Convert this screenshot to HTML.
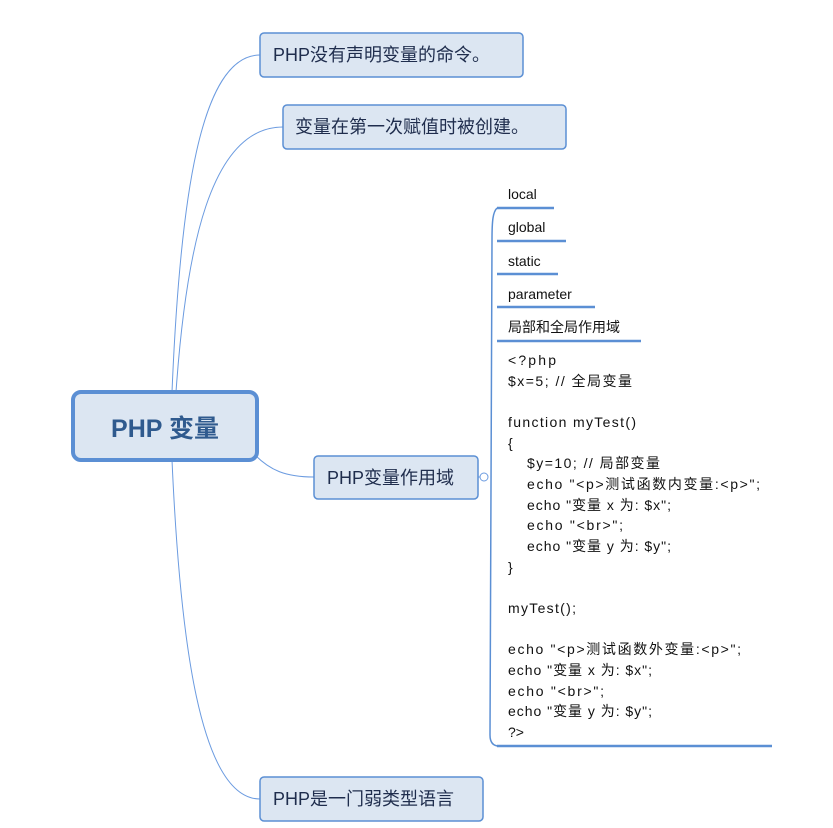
<!DOCTYPE html>
<html><head><meta charset="utf-8"><style>
html,body{margin:0;padding:0;background:#fff}
svg{display:block}
text{font-family:"Liberation Sans","Noto Sans CJK SC",sans-serif}
</style></head><body>
<svg width="833" height="828" viewBox="0 0 833 828" xmlns="http://www.w3.org/2000/svg">
<g fill="none" stroke="#6b9be0" stroke-width="1">
<path d="M172,392 C180,200 200,55 260,55"/>
<path d="M176,392 C186,250 210,127 283,127"/>
<path d="M255,455 C270,470 285,477 314,477"/>
<path d="M172,460 C180,640 200,799 260,799"/>
<path d="M478,477 L480,477"/>
</g>
<g fill="none" stroke="#5b8fd4" stroke-width="1.5">
<path d="M497,208 C493,212 492,220 492,240 L490,735 C490,742 493,746 499,746"/>
</g>
<circle cx="484" cy="477" r="4" fill="#fff" stroke="#6b9be0" stroke-width="1"/>
<g stroke="#5b8fd4" stroke-width="2.5">
<line x1="497" y1="208" x2="554" y2="208"/>
<line x1="497" y1="241" x2="566" y2="241"/>
<line x1="497" y1="274" x2="558" y2="274"/>
<line x1="497" y1="307" x2="595" y2="307"/>
<line x1="497" y1="341" x2="641" y2="341"/>
<line x1="497" y1="746" x2="772" y2="746"/>
</g>
<rect x="73" y="392" width="184" height="68" rx="8" fill="#dce6f2" stroke="#5b8fd4" stroke-width="4"/>
<text x="165" y="437" font-size="25" font-weight="bold" fill="#2f5a8e" text-anchor="middle">PHP 变量</text>
<g fill="#dce6f2" stroke="#5b8fd4" stroke-width="1.5">
<rect x="260" y="33" width="263" height="44" rx="4"/>
<rect x="283" y="105" width="283" height="44" rx="4"/>
<rect x="314" y="456" width="164" height="43" rx="4"/>
<rect x="260" y="777" width="223" height="44" rx="4"/>
</g>
<g font-size="18" fill="#1f2d4d">
<text x="273" y="61">PHP没有声明变量的命令。</text>
<text x="295" y="133">变量在第一次赋值时被创建。</text>
<text x="327" y="484">PHP变量作用域</text>
<text x="273" y="805">PHP是一门弱类型语言</text>
</g>
<g font-size="14" fill="#111">
<text x="508" y="199">local</text>
<text x="508" y="232">global</text>
<text x="508" y="266">static</text>
<text x="508" y="299">parameter</text>
<text x="508" y="332">局部和全局作用域</text>
<text x="508" y="365" textLength="48">&lt;?php</text>
<text x="508" y="386" textLength="124">$x=5; // 全局变量</text>
<text x="508" y="427" textLength="128">function myTest()</text>
<text x="508" y="448">{</text>
<text x="527" y="468" textLength="133">$y=10; // 局部变量</text>
<text x="527" y="489" textLength="233">echo "&lt;p&gt;测试函数内变量:&lt;p&gt;";</text>
<text x="527" y="510" textLength="144">echo "变量 x 为: $x";</text>
<text x="527" y="530" textLength="96">echo "&lt;br&gt;";</text>
<text x="527" y="551" textLength="144">echo "变量 y 为: $y";</text>
<text x="508" y="572">}</text>
<text x="508" y="613" textLength="68">myTest();</text>
<text x="508" y="654" textLength="233">echo "&lt;p&gt;测试函数外变量:&lt;p&gt;";</text>
<text x="508" y="675" textLength="144">echo "变量 x 为: $x";</text>
<text x="508" y="696" textLength="96">echo "&lt;br&gt;";</text>
<text x="508" y="716" textLength="144">echo "变量 y 为: $y";</text>
<text x="508" y="737">?&gt;</text>
</g>
</svg>
</body></html>
